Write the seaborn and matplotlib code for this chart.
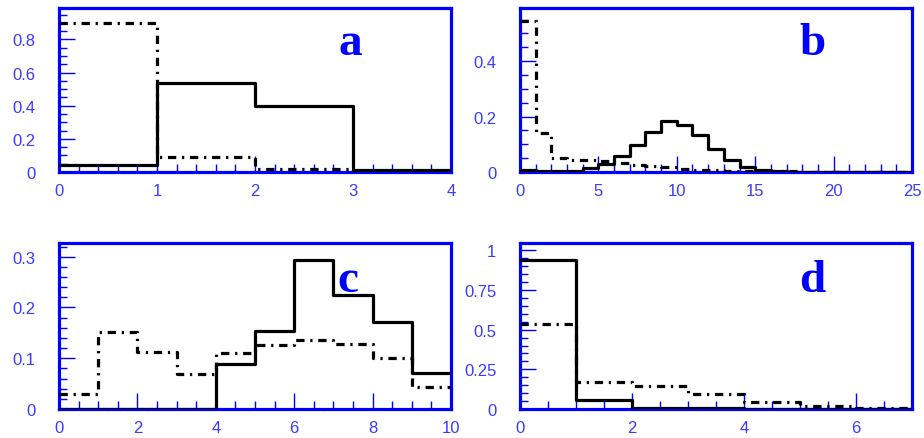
import numpy as np
import pandas as pd
import matplotlib
matplotlib.use("Agg")
import matplotlib.pyplot as plt
from matplotlib.ticker import MultipleLocator, FuncFormatter
import seaborn as sns

sns.set_style("white")
plt.rcParams["font.family"] = ["Liberation Sans", "DejaVu Sans"]

# ---- panel a : 4 unit bins on [0, 4]
a_edges = [0, 1, 2, 3, 4]
a_solid = [0.045, 0.539, 0.398, 0.012]
a_dash = [0.901, 0.089, 0.018, 0.005]

# ---- panel b : 25 unit bins on [0, 25]
b_edges = list(range(0, 26))
b_solid = [0.009, 0.004, 0.004, 0.004, 0.016, 0.028, 0.059, 0.098, 0.145, 0.183,
           0.169, 0.135, 0.082, 0.043, 0.018, 0.006, 0.003, 0.001, 0.001, 0.001,
           0.001, 0.001, 0.001, 0.001, 0.001]
b_dash = [0.545, 0.140, 0.050, 0.045, 0.044, 0.038, 0.033, 0.027, 0.023, 0.018,
          0.012, 0.009, 0.006, 0.005, 0.004, 0.003, 0.002, 0.002, 0.001, 0.001,
          0.001, 0.001, 0.001, 0.001, 0.001]

# ---- panel c : 10 unit bins on [0, 10]
c_edges = list(range(0, 11))
c_solid = [0.0, 0.0, 0.0, 0.0, 0.089, 0.153, 0.294, 0.224, 0.172, 0.071]
c_dash = [0.030, 0.151, 0.113, 0.069, 0.111, 0.127, 0.135, 0.128, 0.100, 0.043]

# ---- panel d : 7 unit bins on [0, 7]
d_edges = list(range(0, 8))
d_solid = [0.941, 0.059, 0.005, 0.004, 0.003, 0.003, 0.003]
d_dash = [0.537, 0.173, 0.143, 0.095, 0.046, 0.021, 0.009]

panel_letters = ["a", "b", "c", "d"]

# axis ranges and tick spacing (major, minor) per panel
panel_xlim = [(0, 4), (0, 25), (0, 10), (0, 7)]
panel_ylim = [(0, 0.99), (0, 0.592), (0, 0.327), (0, 1.046)]
panel_xticks = [(1, 0.2), (5, 1), (2, 0.5), (2, 0.5)]
panel_yticks = [(0.2, 0.05), (0.2, 0.05), (0.1, 0.02), (0.25, 0.05)]

BLUE = "#0000ff"
LABEL_BLUE = "#3a3aff"
DASHDOT = (0, (2.6, 1.8, 0.7, 1.8))

fig = plt.figure(figsize=(9.24, 4.39), dpi=100)
boxes = [
    (59 / 924, 266 / 439, 392 / 924, 164 / 439),
    (520 / 924, 266 / 439, 392 / 924, 164 / 439),
    (59 / 924, 29 / 439, 392 / 924, 166 / 439),
    (520 / 924, 29 / 439, 392 / 924, 166 / 439),
]
letter_pos = [(0.742, 0.72), (0.747, 0.72), (0.737, 0.711), (0.745, 0.711)]

datasets = [
    (a_edges, a_solid, a_dash),
    (b_edges, b_solid, b_dash),
    (c_edges, c_solid, c_dash),
    (d_edges, d_solid, d_dash),
]

fmt = FuncFormatter(lambda v, pos: "%g" % round(v, 4))

for i, (edges, solid, dash) in enumerate(datasets):
    ax = fig.add_axes(boxes[i])
    e = np.asarray(edges, dtype=float)
    df = pd.DataFrame({
        "x": 0.5 * (e[:-1] + e[1:]),
        "solid": solid,
        "dash": dash,
    })
    bin_list = [float(v) for v in edges]

    sns.histplot(data=df, x="x", weights="dash", bins=bin_list, element="step",
                 fill=False, color="black", linewidth=2.3, linestyle=DASHDOT,
                 ax=ax, zorder=3)
    sns.histplot(data=df, x="x", weights="solid", bins=bin_list, element="step",
                 fill=False, color="black", linewidth=2.3, ax=ax, zorder=4)

    ax.set_xlim(*panel_xlim[i])
    ax.set_ylim(*panel_ylim[i])
    ax.set_xlabel("")
    ax.set_ylabel("")

    mj, mn = panel_xticks[i]
    ax.xaxis.set_major_locator(MultipleLocator(mj))
    ax.xaxis.set_minor_locator(MultipleLocator(mn))
    mj, mn = panel_yticks[i]
    ax.yaxis.set_major_locator(MultipleLocator(mj))
    ax.yaxis.set_minor_locator(MultipleLocator(mn))
    ax.xaxis.set_major_formatter(fmt)
    ax.yaxis.set_major_formatter(fmt)

    ax.tick_params(which="both", direction="in", color=BLUE, width=1.0,
                   top=False, right=False, bottom=True, left=True,
                   labelcolor=LABEL_BLUE, labelsize=12)
    ax.tick_params(which="major", length=11.5)
    ax.tick_params(which="minor", length=5.5)
    ax.tick_params(axis="y", which="major", pad=17)
    ax.tick_params(axis="x", which="major", pad=8)

    for sp in ax.spines.values():
        sp.set_visible(True)
        sp.set_color(BLUE)
        sp.set_linewidth(2.3)

    lx, ly = letter_pos[i]
    ax.text(lx, ly, panel_letters[i], transform=ax.transAxes, ha="center",
            va="baseline", color=BLUE, fontsize=34, fontweight="bold",
            family=["Liberation Serif", "DejaVu Serif"])

fig.savefig("out.png", dpi=100, facecolor="white")
